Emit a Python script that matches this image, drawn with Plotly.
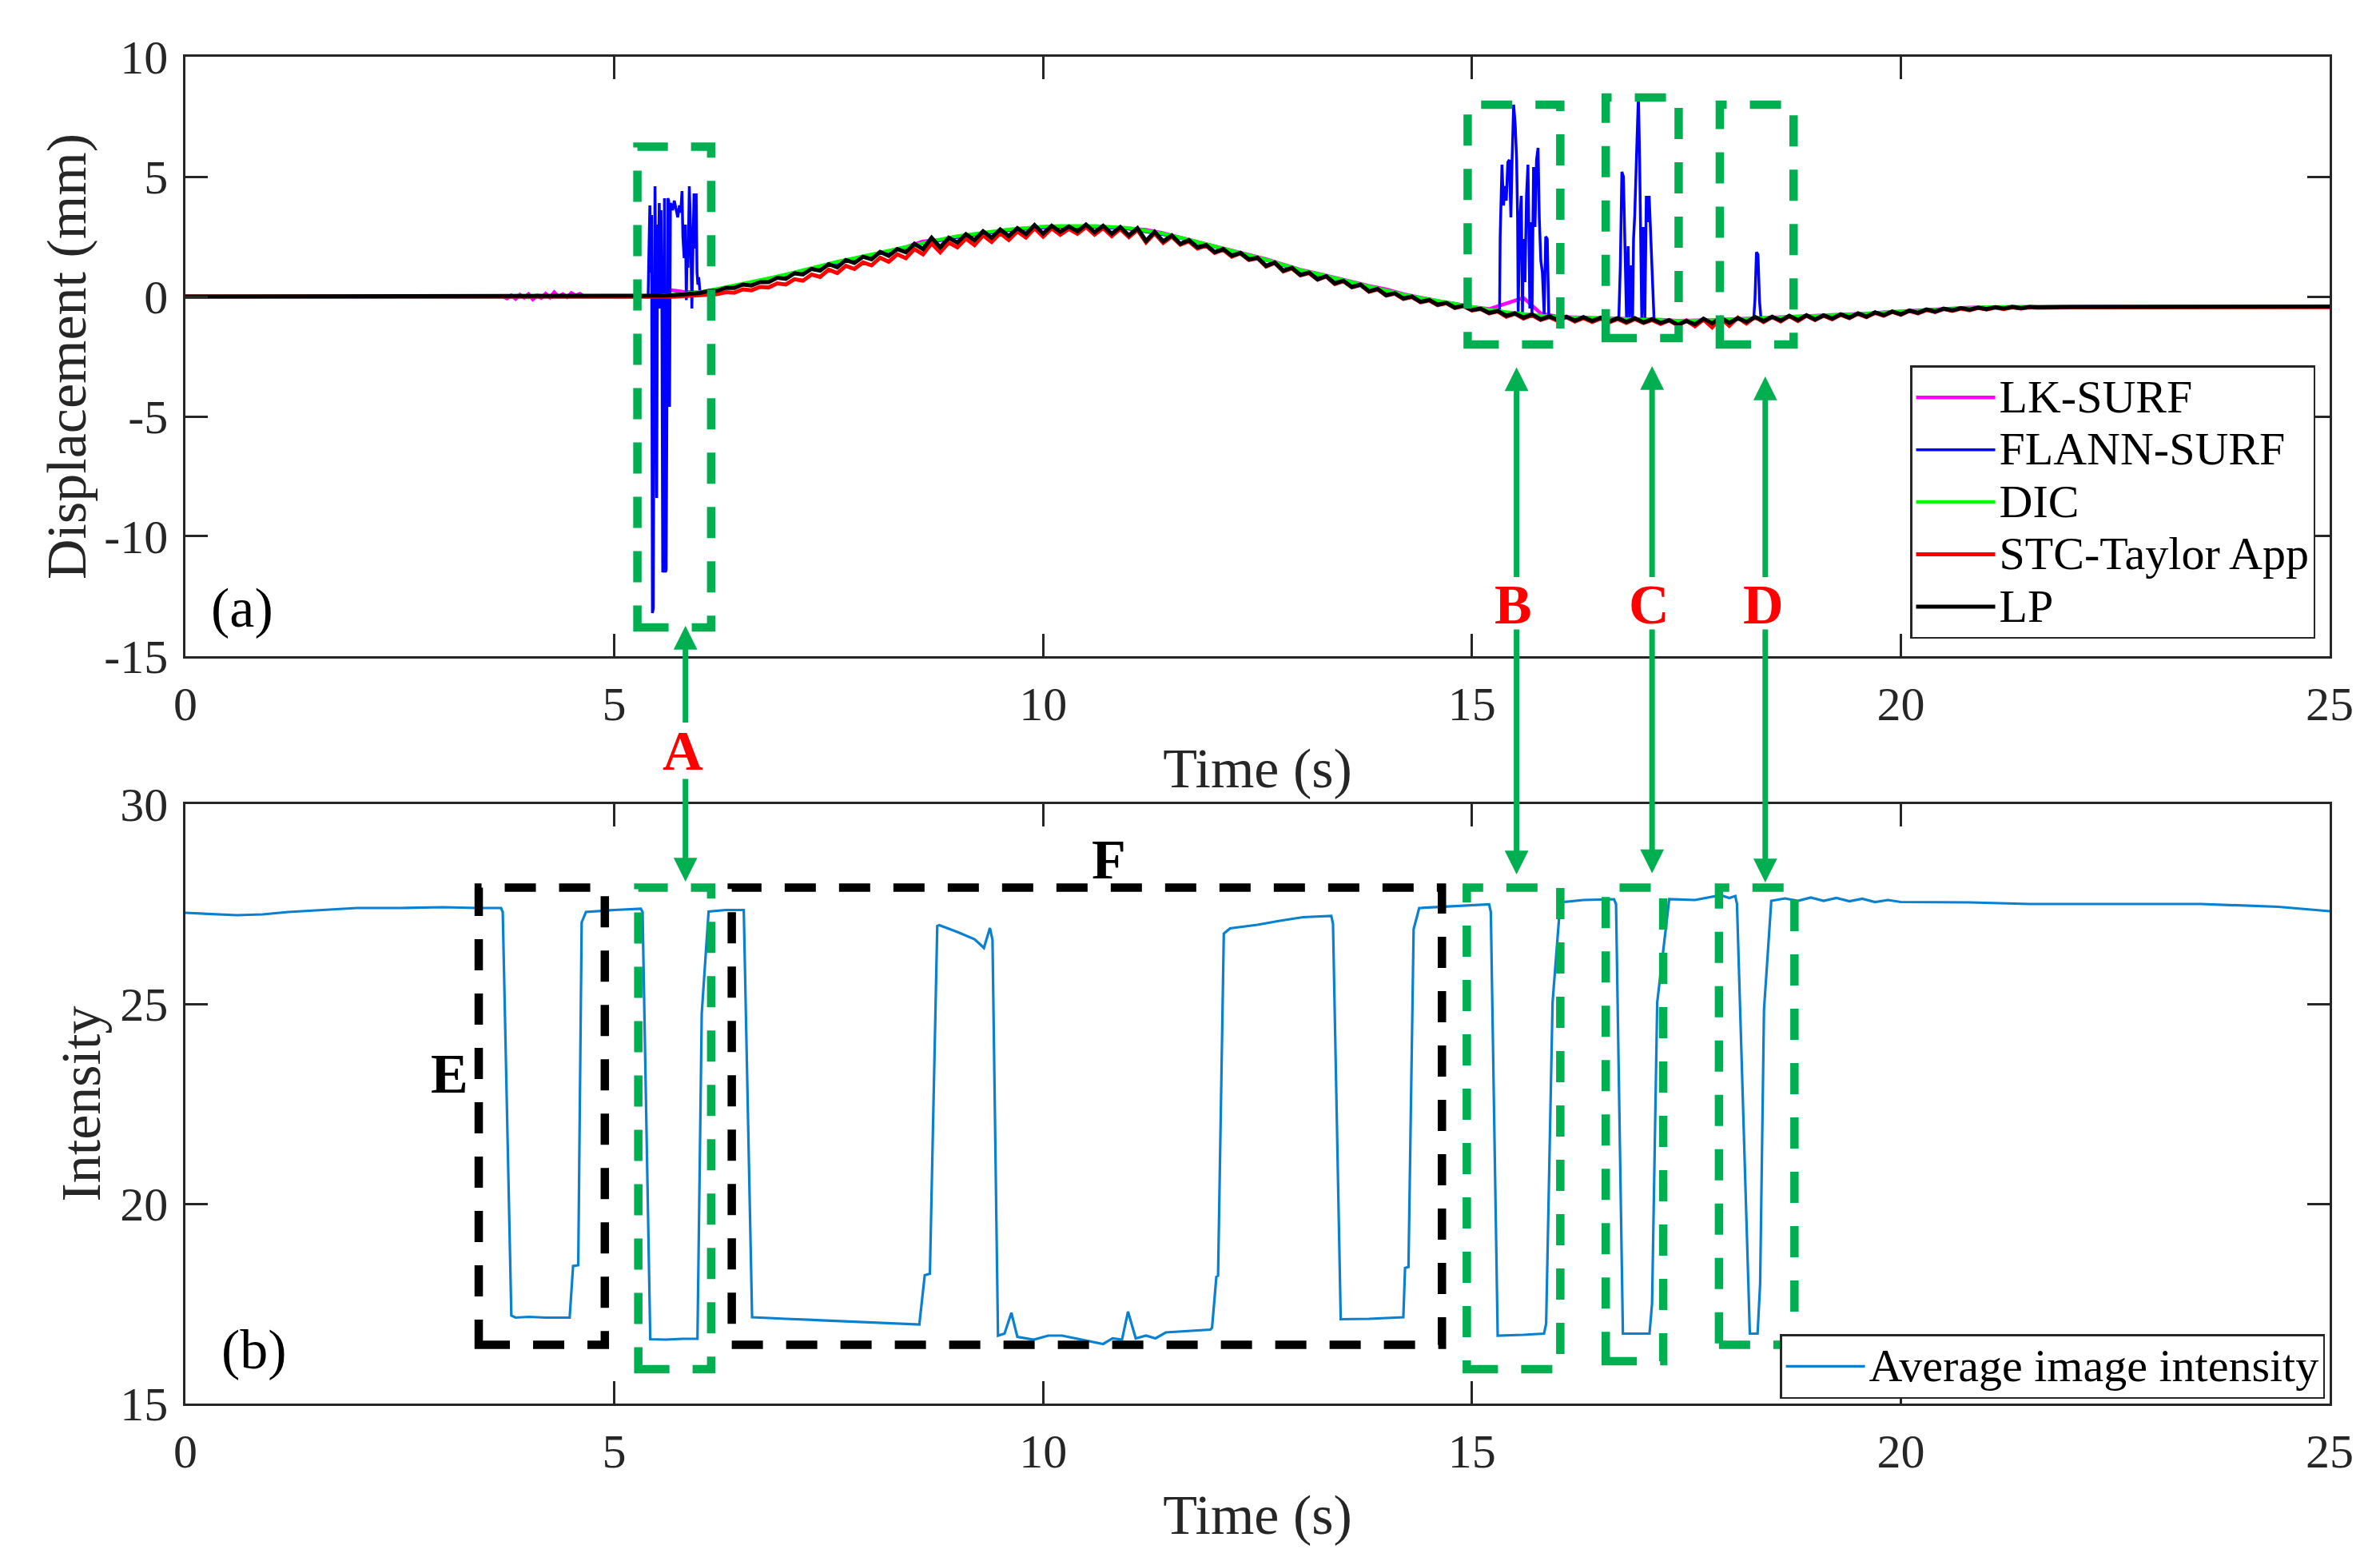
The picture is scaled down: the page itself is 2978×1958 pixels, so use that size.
import numpy as np
import plotly.graph_objects as go

FONT = "Liberation Serif, Times New Roman, serif"
AXIS_COLOR = "#262626"
BOX_GREEN = "#00B050"
ARROW_GREEN = "#00B050"
DASH = "39px,29px"

# ---------------- (a) displacement, mm ----------------
# 0.1 s grid where the curves wiggle, 0.2 s grid for the mostly hidden ones
t_fine = np.round(np.arange(5.4, 21.65, 0.1), 1)
t_coarse = np.round(np.arange(5.4, 21.65, 0.2), 1)

lp_vals = [
    0.00, 0.02, 0.04, 0.06, 0.09, 0.11, 0.15, 0.23, 0.24, 0.36,
    0.36, 0.50, 0.46, 0.60, 0.60, 0.78, 0.74, 0.97, 0.92, 1.15,
    1.08, 1.35, 1.22, 1.52, 1.40, 1.66, 1.55, 1.86, 1.70, 1.98,
    1.85, 2.20, 1.98, 2.45, 2.05, 2.45, 2.25, 2.60, 2.35, 2.72,
    2.45, 2.80, 2.52, 2.85, 2.60, 2.98, 2.62, 2.95, 2.70, 2.92,
    2.72, 3.00, 2.68, 2.95, 2.62, 2.90, 2.55, 2.85, 2.32, 2.70,
    2.30, 2.55, 2.20, 2.35, 2.05, 2.15, 1.85, 1.98, 1.70, 1.82,
    1.55, 1.62, 1.28, 1.42, 1.08, 1.20, 0.90, 1.00, 0.72, 0.85,
    0.55, 0.66, 0.40, 0.50, 0.22, 0.32, 0.06, 0.14, -0.08, 0.00,
    -0.22, -0.14, -0.34, -0.26, -0.46, -0.38, -0.56, -0.50, -0.68, -0.60,
    -0.80, -0.70, -0.88, -0.74, -0.95, -0.82, -0.98, -0.84, -1.00, -0.86,
    -1.02, -0.88, -1.04, -0.90, -1.06, -0.90, -1.08, -0.94, -1.10, -0.98,
    -1.18, -1.02, -1.16, -0.92, -1.12, -0.88, -1.10, -0.90, -1.06, -0.85,
    -1.02, -0.84, -1.00, -0.80, -0.98, -0.78, -0.96, -0.78, -0.92, -0.74,
    -0.88, -0.70, -0.84, -0.66, -0.78, -0.62, -0.74, -0.58, -0.68, -0.54,
    -0.63, -0.50, -0.58, -0.48, -0.55, -0.46, -0.52, -0.44, -0.50, -0.43,
    -0.48, -0.43, -0.45,
]

stc_vals = [
    -0.03, -0.04, -0.02, -0.01, 0.02, 0.03, 0.05, 0.08, 0.10, 0.18,
    0.16, 0.30, 0.26, 0.40, 0.38, 0.55, 0.50, 0.72, 0.66, 0.92,
    0.82, 1.12, 0.98, 1.28, 1.15, 1.42, 1.30, 1.62, 1.45, 1.76,
    1.60, 1.98, 1.76, 2.22, 1.85, 2.25, 2.05, 2.42, 2.15, 2.55,
    2.28, 2.64, 2.36, 2.72, 2.46, 2.85, 2.50, 2.84, 2.58, 2.82,
    2.62, 2.90, 2.58, 2.86, 2.52, 2.82, 2.48, 2.78, 2.26, 2.64,
    2.24, 2.50, 2.16, 2.30, 2.00, 2.12, 1.82, 1.95, 1.66, 1.80,
    1.52, 1.60, 1.25, 1.40, 1.05, 1.18, 0.88, 0.98, 0.70, 0.84,
    0.52, 0.64, 0.38, 0.48, 0.20, 0.30, 0.04, 0.12, -0.10, -0.02,
    -0.24, -0.16, -0.36, -0.28, -0.48, -0.40, -0.58, -0.52, -0.70, -0.62,
    -0.84, -0.72, -0.92, -0.78, -0.98, -0.86, -1.02, -0.86, -1.04, -0.90,
    -1.06, -0.92, -1.08, -0.94, -1.10, -0.94, -1.10, -0.98, -1.14, -1.00,
    -1.20, -1.00, -1.24, -0.96, -1.28, -0.90, -1.22, -0.88, -1.12, -0.86,
    -1.06, -0.86, -1.04, -0.82, -1.02, -0.80, -0.98, -0.80, -0.95, -0.76,
    -0.90, -0.72, -0.86, -0.68, -0.80, -0.64, -0.76, -0.60, -0.70, -0.56,
    -0.65, -0.52, -0.60, -0.50, -0.57, -0.48, -0.54, -0.46, -0.52, -0.45,
    -0.50, -0.45, -0.47,
]

dic_vals = [
    0.00, 0.05, 0.10, 0.18, 0.32, 0.46, 0.60, 0.76, 0.92, 1.10,
    1.28, 1.45, 1.60, 1.76, 1.92, 2.08, 2.24, 2.38, 2.52, 2.62,
    2.72, 2.80, 2.86, 2.92, 2.94, 2.95, 2.94, 2.90, 2.86, 2.74,
    2.62, 2.46, 2.28, 2.10, 1.92, 1.74, 1.54, 1.32, 1.10, 0.94,
    0.78, 0.60, 0.42, 0.24, 0.08, -0.06, -0.19, -0.31, -0.44, -0.55,
    -0.65, -0.74, -0.80, -0.86, -0.88, -0.90, -0.92, -0.93, -0.94, -0.98,
    -1.02, -1.02, -0.99, -0.96, -0.93, -0.90, -0.87, -0.86, -0.84, -0.80,
    -0.76, -0.72, -0.67, -0.63, -0.58, -0.53, -0.50, -0.47, -0.44, -0.43,
    -0.42, -0.42,
]

lk_vals = [
    0.00, 0.30, 0.20, 0.17, 0.30, 0.44, 0.58, 0.74, 0.90, 1.08,
    1.26, 1.44, 1.58, 1.75, 1.90, 2.06, 2.30, 2.36, 2.50, 2.60,
    2.70, 2.78, 2.84, 2.90, 2.92, 2.93, 2.92, 2.88, 2.84, 2.78,
    2.64, 2.46, 2.30, 2.12, 1.94, 1.76, 1.56, 1.34, 1.12, 0.96,
    0.80, 0.62, 0.44, 0.30, 0.10, -0.05, -0.18, -0.30, -0.43, -0.52,
    -0.30, -0.05, -0.70, -0.84, -0.87, -0.89, -0.91, -0.92, -0.93, -0.97,
    -1.01, -1.01, -0.98, -0.95, -0.92, -0.89, -0.86, -0.85, -0.83, -0.79,
    -0.75, -0.71, -0.66, -0.62, -0.57, -0.52, -0.49, -0.46, -0.44, -0.43,
    -0.42, -0.42,
]

# flat / noisy parts before and after the grids
lk_pre_t = [0, 3.7, 3.75, 3.8, 3.85, 3.9, 3.95, 4.0, 4.05, 4.1, 4.15,
            4.2, 4.25, 4.3, 4.35, 4.4, 4.45, 4.5, 4.55, 4.6, 4.65, 5.2]
lk_pre_d = [0, 0, -0.08, 0.05, -0.10, 0.08, -0.05, 0.10, -0.12, 0.02, -0.06,
            0.12, -0.04, 0.18, 0.00, 0.10, -0.03, 0.15, 0.05, 0.12, 0.00, 0.00]
dic_pre_t = [0, 3.8, 3.9, 4.0, 4.1, 4.2, 5.2]
dic_pre_d = [0, 0, 0.05, -0.04, 0.06, 0, 0]
tail_t = [22, 23, 24, 25]
lp_tail = [-0.43, -0.42, -0.42, -0.42]
stc_tail = [-0.45, -0.44, -0.44, -0.44]
other_tail = [-0.42, -0.42, -0.42, -0.42]

# FLANN-SURF: smooth base plus the four bursts of outliers
flann_base_t = [0, 5.38, 6.0, 6.2, 6.4, 6.6, 6.8, 7.0, 7.2, 7.4, 7.6, 7.8,
                8.0, 8.2, 8.4, 8.6, 8.8, 9.0, 9.2, 9.4, 9.6, 9.8, 10.0, 10.2,
                10.4, 10.6, 10.8, 11.0, 11.2, 11.4, 11.6, 11.8, 12.0, 12.2,
                12.4, 12.6, 12.8, 13.0, 13.2, 13.4, 13.6, 13.8, 14.0, 14.2,
                14.4, 14.6, 14.8, 15.0, 15.2, 15.3, 16.0, 16.2, 16.4, 16.6,
                16.7, 17.2, 17.4, 17.6, 17.8, 18.0, 18.2, 18.27, 18.4, 18.6,
                18.8, 19.0, 19.2, 19.4, 19.6, 19.8, 20.0, 20.2, 20.4, 20.6,
                20.8, 21.0, 21.4, 22.0, 25.0]
flann_base_d = [0, 0.0, 0.16, 0.31, 0.44, 0.58, 0.72, 0.86, 1.04, 1.22, 1.40, 1.55,
                1.72, 1.88, 2.04, 2.20, 2.33, 2.47, 2.57, 2.67, 2.75, 2.81, 2.87, 2.89,
                2.91, 2.90, 2.86, 2.82, 2.70, 2.58, 2.43, 2.25, 2.07, 1.89,
                1.71, 1.51, 1.29, 1.07, 0.91, 0.75, 0.58, 0.40, 0.22, 0.07,
                -0.07, -0.20, -0.33, -0.45, -0.56, -0.62, -0.86, -0.88, -0.90, -0.92,
                -0.93, -0.99, -1.02, -1.03, -1.00, -0.97, -0.93, -0.92, -0.91, -0.88,
                -0.86, -0.84, -0.80, -0.76, -0.72, -0.68, -0.63, -0.58, -0.53, -0.50,
                -0.47, -0.45, -0.43, -0.42, -0.42]

burst_a_t = [5.395, 5.405, 5.415, 5.425, 5.435, 5.445, 5.455, 5.465, 5.475, 5.485,
             5.495, 5.505, 5.515, 5.525, 5.535, 5.545, 5.555, 5.565, 5.575, 5.585,
             5.595, 5.605, 5.615, 5.625, 5.635, 5.645, 5.655, 5.68, 5.70, 5.72,
             5.74, 5.76, 5.775, 5.79, 5.80, 5.815, 5.83, 5.84, 5.85, 5.86,
             5.875, 5.89, 5.905, 5.915, 5.93, 5.94, 5.955, 5.965, 5.975, 5.985]
burst_a_d = [0.0, 2.0, 3.8, 1.0, 3.4, -13.2, -13.0, -2.0, 4.6, 0.5,
             -8.4, 3.0, 1.5, 3.9, -0.5, 3.6, 0.2, -11.5, -11.4, 4.1,
             -11.5, -11.4, -3.0, 4.1, 4.0, -4.6, 3.9, 3.6, 4.0, 3.7,
             3.3, 3.8, 3.5, 4.4, 2.5, 1.6, 3.0, -0.15, 2.0, 1.2,
             4.6, 2.8, -0.5, 1.5, 4.3, 2.0, 4.3, 1.0, 0.5, 0.8]

burst_b_t = [15.322, 15.329, 15.350, 15.368, 15.386, 15.400, 15.418, 15.436, 15.454, 15.468,
             15.486, 15.504, 15.521, 15.532, 15.539, 15.557, 15.575, 15.589, 15.600, 15.618,
             15.636, 15.653, 15.664, 15.675, 15.686, 15.700, 15.718, 15.735, 15.753, 15.771,
             15.785, 15.803, 15.821, 15.842, 15.860, 15.878, 15.896, 15.914]
burst_b_d = [-0.65, 2.5, 5.5, 3.8, 4.6, 4.0, 5.6, 5.7, 3.3, 5.7,
             8.0, 7.2, 5.7, 3.3, -0.7, 3.1, 4.2, -0.7, 2.4, 0.6,
             4.2, 5.5, 1.3, -0.5, 3.1, -0.75, 5.4, 2.9, 5.7, 6.2,
             3.3, 1.5, 1.0, -0.75, 2.5, 2.4, -0.8, -0.8]

burst_c_t = [16.712, 16.730, 16.748, 16.766, 16.784, 16.802, 16.820, 16.837, 16.855, 16.873,
             16.884, 16.898, 16.919, 16.941, 16.955, 16.969, 16.980, 16.998, 17.016, 17.033,
             17.051, 17.066, 17.087, 17.105, 17.123]
burst_c_d = [-0.94, 1.3, 5.2, 5.0, 2.1, -0.9, 2.1, -0.9, 1.3, -0.9,
             2.4, 3.4, 5.9, 8.4, 5.7, 2.9, -0.9, 2.9, -0.9, 4.2,
             3.1, 4.2, 2.1, 0.2, -0.95]

burst_d_t = [18.285, 18.300, 18.317, 18.335, 18.353, 18.370]
burst_d_d = [-0.92, -0.1, 1.85, 1.75, -0.2, -0.92]

# ---------------- (b) average image intensity ----------------
int_t = [0.0, 0.3, 0.6, 0.9, 1.2, 1.6, 2.0, 2.5, 3.0, 3.4, 3.68, 3.70, 3.80, 3.85,
         4.0, 4.2, 4.48, 4.52, 4.58, 4.62, 4.67, 5.0, 5.31, 5.33, 5.42, 5.6, 5.8,
         5.97, 6.02, 6.10, 6.3, 6.51, 6.607, 7.0, 7.5, 8.0, 8.557, 8.62, 8.68,
         8.766, 8.79, 9.0, 9.2, 9.266, 9.31, 9.38, 9.41, 9.474, 9.55, 9.63, 9.70,
         9.89, 10.06, 10.22, 10.52, 10.70, 10.81, 10.92, 10.99, 11.08, 11.2, 11.31,
         11.43, 11.64, 11.95, 11.97, 12.02, 12.04, 12.107, 12.18, 12.5, 12.76,
         13.03, 13.36, 13.38, 13.47, 13.8, 14.2, 14.22, 14.26, 14.32, 14.385,
         14.8, 15.20, 15.22, 15.30, 15.6, 15.84, 15.865, 15.94, 16.03, 16.3,
         16.656, 16.68, 16.76, 17.07, 17.10, 17.16, 17.30, 17.6, 17.9, 18.0,
         18.07, 18.09, 18.24, 18.33, 18.36, 18.405, 18.49, 18.65, 18.8, 18.95,
         19.1, 19.25, 19.4, 19.55, 19.7, 19.85, 20.0, 20.8, 21.5, 22.6, 23.5,
         24.4, 25.0]
int_v = [27.28, 27.25, 27.22, 27.24, 27.30, 27.35, 27.40, 27.40, 27.42, 27.40, 27.40, 27.30, 17.20, 17.15,
         17.17, 17.15, 17.15, 18.44, 18.46, 27.04, 27.30, 27.35, 27.38, 27.30, 16.61, 16.60, 16.62,
         16.62, 24.76, 27.31, 27.35, 27.35, 17.16, 17.12, 17.08, 17.03, 16.98, 18.21, 18.25,
         26.95, 26.97, 26.80, 26.62, 26.49, 26.40, 26.90, 26.60, 16.70, 16.75, 17.27, 16.67,
         16.60, 16.70, 16.70, 16.56, 16.49, 16.63, 16.60, 17.30, 16.63, 16.70, 16.63,
         16.78, 16.81, 16.85, 16.90, 18.17, 18.20, 26.76, 26.89, 26.98, 27.08,
         27.17, 27.20, 27.00, 17.11, 17.12, 17.16, 18.39, 18.42, 26.87, 27.40,
         27.45, 27.49, 27.30, 16.70, 16.72, 16.75, 17.00, 25.04, 27.54, 27.60,
         27.62, 27.50, 16.75, 16.75, 17.50, 25.04, 27.62, 27.60, 27.72, 27.65,
         27.70, 27.50, 16.75, 16.75, 18.00, 24.85, 27.58, 27.64, 27.58, 27.66,
         27.58, 27.65, 27.57, 27.63, 27.55, 27.60, 27.55, 27.54, 27.50, 27.50, 27.50,
         27.43, 27.32]

# assemble the series
lp_t = [0, 5.3] + list(t_fine) + tail_t
lp_d = [0, 0] + lp_vals + lp_tail
stc_t = [0, 5.3] + list(t_fine) + tail_t
stc_d = [0, 0] + stc_vals + stc_tail
dic_t = dic_pre_t + list(t_coarse) + tail_t
dic_d = dic_pre_d + dic_vals + other_tail
lk_t = lk_pre_t + list(t_coarse) + tail_t
lk_d = lk_pre_d + lk_vals + other_tail

flann = sorted(zip(flann_base_t + burst_a_t + burst_b_t + burst_c_t + burst_d_t,
                   flann_base_d + burst_a_d + burst_b_d + burst_c_d + burst_d_d))
flann_t = [p[0] for p in flann]
flann_d = [p[1] for p in flann]

fig = go.Figure()

# legend text is drawn at 58px while the row pitch follows the smaller legend font
def leg_name(s):
    return '<span style="font-size:58px">%s</span>' % s

series = [
    ("LK-SURF", lk_t, lk_d, "#FF00FF", 4.5),
    ("FLANN-SURF", flann_t, flann_d, "#0000FF", 3.5),
    ("DIC", dic_t, dic_d, "#00FF00", 4.5),
    ("STC-Taylor App", stc_t, stc_d, "#FF0000", 5),
    ("LP", lp_t, lp_d, "#000000", 5),
]
for name, xs, ys, col, w in series:
    fig.add_trace(go.Scatter(x=xs, y=ys, mode="lines", name=leg_name(name),
                             line=dict(color=col, width=w),
                             xaxis="x", yaxis="y", legend="legend"))

fig.add_trace(go.Scatter(x=int_t, y=int_v, mode="lines", name=leg_name("Average image intensity"),
                         line=dict(color="#0A80D0", width=3.2),
                         xaxis="x2", yaxis="y2", legend="legend2"))

axis_style = dict(showline=True, linecolor=AXIS_COLOR, linewidth=2.5, mirror="ticks",
                  ticks="inside", ticklen=28, tickwidth=2.5, tickcolor=AXIS_COLOR,
                  showgrid=False, zeroline=False,
                  tickfont=dict(family=FONT, size=60, color=AXIS_COLOR))
title_font = dict(family=FONT, size=70, color=AXIS_COLOR)

fig.update_layout(
    width=2962, height=1926,
    margin=dict(l=224, r=55, t=63, b=169),
    paper_bgcolor="white", plot_bgcolor="white",
    font=dict(family=FONT, color=AXIS_COLOR),
    xaxis=dict(domain=[0, 1], anchor="y", range=[0, 25], tickvals=[0, 5, 10, 15, 20, 25],
               ticklabelstandoff=5,
               title=dict(text="Time (s)", font=title_font, standoff=24), **axis_style),
    yaxis=dict(domain=[0.5549, 1], anchor="x", range=[-15, 10],
               tickvals=[-15, -10, -5, 0, 5, 10], ticktext=["-15", "-10", "-5", "0", "5", "10"],
               ticklabelstandoff=7,
               title=dict(text="Displacement (mm)", font=title_font, standoff=0), **axis_style),
    xaxis2=dict(domain=[0, 1], anchor="y2", range=[0, 25], tickvals=[0, 5, 10, 15, 20, 25],
                ticklabelstandoff=5,
                title=dict(text="Time (s)", font=title_font, standoff=24), **axis_style),
    yaxis2=dict(domain=[0, 0.4451], anchor="x2", range=[15, 30], tickvals=[15, 20, 25, 30],
                ticklabelstandoff=7,
                title=dict(text="Intensity", font=title_font, standoff=2), **axis_style),
    legend=dict(x=0.9933, y=0.5679, xanchor="right", yanchor="bottom",
                bgcolor="white", bordercolor=AXIS_COLOR, borderwidth=2.5, itemwidth=99,
                font=dict(family=FONT, size=48, color="black"), tracegroupgap=0),
    legend2=dict(x=0.9978, y=0.0035, xanchor="right", yanchor="bottom",
                 bgcolor="white", bordercolor=AXIS_COLOR, borderwidth=2.5, itemwidth=99,
                 font=dict(family=FONT, size=48, color="black")),
    showlegend=True,
)

# dashed highlight boxes
def box(x0, x1, y0, y1, color, xr, yr):
    fig.add_shape(type="rect", x0=x0, x1=x1, y0=y0, y1=y1, xref=xr, yref=yr,
                  line=dict(color=color, width=10.5, dash=DASH), layer="above")

box(5.27, 6.13, -13.8, 6.25, BOX_GREEN, "x", "y")
box(14.95, 16.03, -2.0, 8.0, BOX_GREEN, "x", "y")
box(16.56, 17.41, -1.73, 8.3, BOX_GREEN, "x", "y")
box(17.89, 18.75, -2.0, 8.0, BOX_GREEN, "x", "y")
box(3.42, 4.89, 16.47, 27.91, "black", "x2", "y2")
box(6.37, 14.65, 16.47, 27.91, "black", "x2", "y2")
box(5.28, 6.13, 15.86, 27.91, BOX_GREEN, "x2", "y2")
box(14.94, 16.03, 15.86, 27.91, BOX_GREEN, "x2", "y2")
box(16.56, 17.23, 16.06, 27.91, BOX_GREEN, "x2", "y2")
box(17.88, 18.76, 16.47, 27.91, BOX_GREEN, "x2", "y2")

# arrows linking the two panels
def arrow(x, y, ay, xr, yr):
    fig.add_annotation(x=x, y=y, ax=x, ay=ay, xref=xr, yref=yr, axref=xr, ayref=yr,
                       text="", showarrow=True, arrowhead=2, arrowsize=0.85,
                       arrowwidth=7, arrowcolor=ARROW_GREEN)

arrow(5.83, -13.73, -17.82, "x", "y")
arrow(5.83, 28.06, 30.66, "x2", "y2")
for xa, tip_top, tip_bot in [(15.52, -2.95, 28.24), (17.10, -2.90, 28.27), (18.42, -3.33, 28.04)]:
    arrow(xa, tip_top, -11.75, "x", "y")
    arrow(xa, tip_bot, 34.4, "x2", "y2")

label_font = dict(family=FONT, size=70, color="black")
red_font = dict(family=FONT, size=70, color="#FF0000")
fig.add_annotation(x=0.66, y=-13.0, xref="x", yref="y", text="(a)", showarrow=False, font=label_font)
fig.add_annotation(x=0.80, y=16.35, xref="x2", yref="y2", text="(b)", showarrow=False, font=label_font)
fig.add_annotation(x=3.08, y=23.26, xref="x2", yref="y2", text="<b>E</b>", showarrow=False, font=label_font)
fig.add_annotation(x=10.77, y=28.62, xref="x2", yref="y2", text="<b>F</b>", showarrow=False, font=label_font)
fig.add_annotation(x=5.80, y=0.4847, xref="x", yref="paper", text="<b>A</b>", showarrow=False, font=red_font)
for xl, lab in [(15.48, "B"), (17.07, "C"), (18.40, "D")]:
    fig.add_annotation(x=xl, y=-12.84, xref="x", yref="y", text="<b>%s</b>" % lab,
                       showarrow=False, font=red_font)

fig.write_html("out.html")
